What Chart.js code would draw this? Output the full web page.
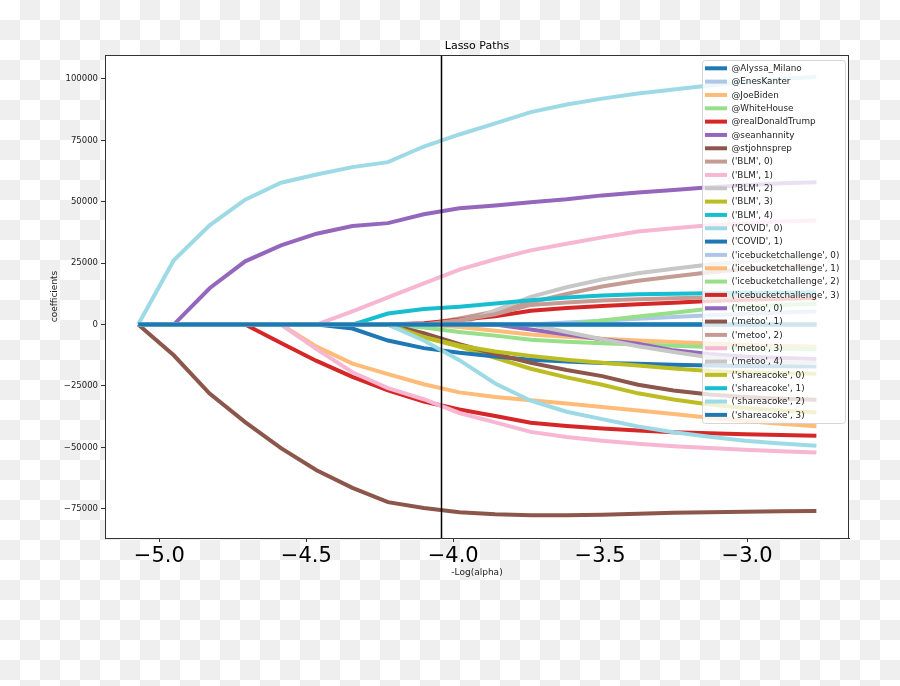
<!DOCTYPE html>
<html>
<head>
<meta charset="utf-8">
<script src="https://cdn.jsdelivr.net/npm/chart.js@4"></script>
<style>
  html, body { margin: 0; padding: 0; }
  body {
    width: 900px; height: 686px;
    background: repeating-conic-gradient(#efefef 0 25%, #ffffff 0 50%) 0 0 / 40px 40px;
  }
  canvas { display: block; }
</style>
</head>
<body>
<canvas id="myChart" width="900" height="686"></canvas>
<script>
// -log(alpha) at each step of the path
let logAlpha = [-5.072, -4.951, -4.829, -4.708, -4.586, -4.465, -4.343, -4.222, -4.100, -3.979,
                -3.857, -3.736, -3.614, -3.493, -3.371, -3.250, -3.128, -3.007, -2.885, -2.764];
let chosenAlpha = -4.043;
let xTicks = [-5.0, -4.5, -4.0, -3.5, -3.0];
let yTicks = [-75000, -50000, -25000, 0, 25000, 50000, 75000, 100000];

let labels = ["@Alyssa_Milano", "@EnesKanter", "@JoeBiden", "@WhiteHouse", "@realDonaldTrump",
  "@seanhannity", "@stjohnsprep", "('BLM', 0)", "('BLM', 1)", "('BLM', 2)", "('BLM', 3)", "('BLM', 4)",
  "('COVID', 0)", "('COVID', 1)", "('icebucketchallenge', 0)", "('icebucketchallenge', 1)",
  "('icebucketchallenge', 2)", "('icebucketchallenge', 3)", "('metoo', 0)", "('metoo', 1)",
  "('metoo', 2)", "('metoo', 3)", "('metoo', 4)", "('shareacoke', 0)", "('shareacoke', 1)",
  "('shareacoke', 2)", "('shareacoke', 3)"];

let colors = ["#1f77b4", "#aec7e8", "#ffbb78", "#98df8a", "#d62728", "#9467bd", "#8c564b",
  "#c49c94", "#f7b6d2", "#c7c7c7", "#bcbd22", "#17becf", "#9edae5",
  "#1f77b4", "#aec7e8", "#ffbb78", "#98df8a", "#d62728", "#9467bd", "#8c564b",
  "#c49c94", "#f7b6d2", "#c7c7c7", "#bcbd22", "#17becf", "#9edae5", "#1f77b4"];

let alyssaMilano    = [0, 0, 0, 0, 0, 0, 0, 0, 0, 0, 0, 0, 0, 0, 0, 0, 0, 0, 0, 0];
let enesKanter      = [0, 0, 0, 0, 0, 0, 0, 0, 0, 0, 0, 0, 800, 1600, 2400, 3100, 3800, 4400, 4900, 5300];
let joeBiden        = [0, 0, 0, 0, 0, -9000, -15900, -20200, -24300, -27600, -29500, -30800, -32100, -33600, -35000, -36400, -37900, -39300, -40400, -41400];
let whiteHouse      = [0, 0, 0, 0, 0, 0, 0, 0, 0, 0, 0, 0, 0, 1700, 3300, 4800, 6400, 7300, 8000, 8500];
let realDonaldTrump = [0, 0, 0, 0, -7500, -14800, -21300, -26800, -31300, -34600, -37200, -40000, -41300, -42300, -43100, -43800, -44300, -44700, -45000, -45300];
let seanHannity     = [0, 0, 14800, 25750, 32260, 37000, 40100, 41300, 44900, 47400, 48500, 49800, 51000, 52600, 53800, 54800, 55900, 56700, 57500, 57900];
let stJohnsPrep     = [0, -12500, -28100, -39700, -50300, -59300, -66500, -72300, -74700, -76400, -77200, -77600, -77600, -77400, -77000, -76600, -76400, -76200, -76000, -75900];
let blm0            = [0, 0, 0, 0, 0, 0, 0, 0, 0, 2500, 5300, 9000, 12500, 15500, 17800, 19600, 21300, 22500, 23400, 24000];
let blm1            = [0, 0, 0, 0, 0, 0, 5400, 11100, 16800, 22400, 26600, 30200, 32900, 35500, 37900, 39200, 40400, 41200, 42000, 42400];
let blm2            = [0, 0, 0, 0, 0, 0, 0, 0, 0, 0, 5800, 11300, 15200, 18400, 20900, 22700, 24500, 25700, 26800, 27600];
let blm3            = [0, 0, 0, 0, 0, 0, 0, 0, -5200, -9000, -13500, -18000, -21500, -24500, -28000, -30500, -32500, -34000, -35000, -35800];
let blm4            = [0, 0, 0, 0, 0, 0, 0, 4500, 6300, 7300, 8600, 9900, 11000, 11800, 12300, 12600, 12800, 13000, 13100, 13200];
let covid0          = [0, 26150, 40400, 50850, 57770, 61100, 64100, 66150, 72500, 77400, 81900, 86500, 89600, 92000, 94100, 95700, 97300, 98800, 100000, 100800];
let covid1          = [0, 0, 0, 0, 0, 0, -1600, -6500, -9600, -11500, -13000, -14300, -15000, -15600, -16000, -16400, -16700, -16900, -17000, -17100];
let ice0            = [0, 0, 0, 0, 0, 0, 0, 0, 0, 0, 0, 0, 0, 0, 0, 0, 0, 0, 0, 0];
let ice1            = [0, 0, 0, 0, 0, 0, 0, 0, 0, -1000, -2500, -4000, -5000, -5800, -6500, -7100, -7700, -8200, -8600, -9000];
let ice2            = [0, 0, 0, 0, 0, 0, 0, 0, -1200, -3000, -4500, -6200, -7000, -7600, -8100, -8600, -9100, -9500, -9800, -10000];
let ice3            = [0, 0, 0, 0, 0, 0, 0, 0, 500, 2000, 3400, 5600, 6700, 7600, 8300, 8900, 9600, 10100, 10500, 10800];
let metoo0          = [0, 0, 0, 0, 0, 0, 0, 0, 0, 0, 0, -2000, -4000, -6000, -7800, -10500, -12000, -13000, -13600, -14000];
let metoo1          = [0, 0, 0, 0, 0, 0, 0, 0, -3500, -8000, -12000, -15600, -18500, -21000, -24500, -26800, -28500, -29500, -30200, -30600];
let metoo2          = [0, 0, 0, 0, 0, 0, 0, 0, 0, 1800, 4200, 8000, 9000, 9800, 10300, 10700, 11000, 11300, 11500, 11700];
let metoo3          = [0, 0, 0, 0, 0, -10000, -19400, -25900, -30400, -36000, -39800, -43700, -45800, -47300, -48500, -49500, -50300, -51000, -51600, -52100];
let metoo4          = [0, 0, 0, 0, 0, 0, 0, 0, 0, 0, 0, 0, -3000, -6000, -8800, -11200, -13300, -14500, -15200, -15600];
let share0          = [0, 0, 0, 0, 0, 0, 0, 0, -5000, -8500, -11000, -12800, -14300, -15500, -16700, -17900, -18900, -19500, -19800, -20000];
let share1          = [0, 0, 0, 0, 0, 0, 0, 0, 0, 0, 0, 0, 0, 0, 0, 0, 0, 0, 0, 0];
let share2          = [0, 0, 0, 0, 0, 0, 0, 0, -6500, -14500, -24000, -31000, -35500, -38500, -41500, -43800, -45700, -47300, -48400, -49300];
let share3          = [0, 0, 0, 0, 0, 0, 0, 0, 0, 0, 0, 0, 0, 0, 0, 0, 0, 0, 0, 0];

let series = [alyssaMilano, enesKanter, joeBiden, whiteHouse, realDonaldTrump, seanHannity, stJohnsPrep,
  blm0, blm1, blm2, blm3, blm4, covid0, covid1, ice0, ice1, ice2, ice3,
  metoo0, metoo1, metoo2, metoo3, metoo4, share0, share1, share2, share3];

const FONT = "'DejaVu Sans', sans-serif";

function minus(s) {
  return s.replace("-", "\u2212");
}

// white plot area over the checkered page
let plotBackground = {
  id: "plotBackground",
  beforeDraw(chart) {
    let {ctx, chartArea: a} = chart;
    ctx.save();
    ctx.fillStyle = "#ffffff";
    ctx.fillRect(a.left, a.top, a.right - a.left, a.bottom - a.top);
    ctx.restore();
  }
};

let decorations = {
  id: "decorations",
  afterDatasetsDraw(chart) {
    let {ctx, chartArea: a, scales} = chart;
    ctx.save();
    // chosen alpha
    let x = Math.round(scales.x.getPixelForValue(chosenAlpha)) + 0.5;
    ctx.strokeStyle = "#000";
    ctx.lineWidth = 1.5;
    ctx.beginPath();
    ctx.moveTo(x, a.top);
    ctx.lineTo(x, a.bottom);
    ctx.stroke();
    // frame
    ctx.strokeStyle = "#333";
    ctx.lineWidth = 1;
    ctx.strokeRect(a.left + 0.5, a.top + 0.5, a.right - a.left - 1, a.bottom - a.top);
    // texts
    ctx.fillStyle = "#000";
    ctx.textAlign = "center";
    ctx.textBaseline = "middle";
    ctx.font = "11px " + FONT;
    ctx.fillText("Lasso Paths", (a.left + a.right) / 2, 46);
    ctx.fillStyle = "#222";
    ctx.font = "9px " + FONT;
    ctx.fillText("-Log(alpha)", (a.left + a.right) / 2, 573);
    ctx.translate(55, (a.top + a.bottom) / 2);
    ctx.rotate(-Math.PI / 2);
    ctx.fillText("coefficients", 0, 0);
    ctx.restore();
  },
  afterDraw(chart) {
    // legend box inside the plot, top right
    let ctx = chart.ctx;
    let left = 702, top = 60, w = 143, h = 363;
    ctx.save();
    ctx.globalAlpha = 0.8;
    ctx.fillStyle = "#ffffff";
    ctx.strokeStyle = "#cccccc";
    ctx.lineWidth = 1;
    ctx.beginPath();
    ctx.roundRect(left + 0.5, top + 0.5, w, h, 3);
    ctx.fill();
    ctx.stroke();
    ctx.globalAlpha = 1;
    ctx.font = "8.8px " + FONT;
    ctx.textAlign = "left";
    ctx.textBaseline = "middle";
    labels.forEach((lab, i) => {
      let y = 68.3 + i * 13.33;
      ctx.strokeStyle = colors[i];
      ctx.lineWidth = 4;
      ctx.beginPath();
      ctx.moveTo(705, y);
      ctx.lineTo(727, y);
      ctx.stroke();
      ctx.fillStyle = "#222";
      ctx.fillText(lab, 731.5, y + 0.5);
    });
    ctx.restore();
  }
};

let datasets = series.map((s, i) => ({
  label: labels[i],
  data: s.map((v, j) => ({x: logAlpha[j], y: v})),
  borderColor: colors[i],
  backgroundColor: colors[i],
  borderWidth: 4,
  pointRadius: 0,
  tension: 0,
  fill: false,
  order: series.length - i
}));

new Chart(document.getElementById("myChart"), {
  type: "line",
  data: {datasets},
  options: {
    responsive: false,
    animation: false,
    devicePixelRatio: 1,
    layout: {padding: {top: 55, right: 51, bottom: 0, left: 0}},
    plugins: {legend: {display: false}, tooltip: {enabled: false}, title: {display: false}},
    scales: {
      x: {
        type: "linear",
        min: -5.185,
        max: -2.653,
        afterFit: s => { s.height = 148; },
        afterBuildTicks: s => { s.ticks = xTicks.map(v => ({value: v})); },
        grid: {drawOnChartArea: false, drawTicks: true, tickLength: 4, tickColor: "#333"},
        border: {display: true, color: "#333"},
        ticks: {
          autoSkip: false, maxRotation: 0, padding: 2, color: "#000",
          font: {family: FONT, size: 21},
          callback: v => minus(v.toFixed(1))
        }
      },
      y: {
        type: "linear",
        min: -86900,
        max: 109760,
        afterFit: s => { s.width = 105; },
        afterBuildTicks: s => { s.ticks = yTicks.map(v => ({value: v})); },
        grid: {drawOnChartArea: false, drawTicks: true, tickLength: 4, tickColor: "#333"},
        border: {display: true, color: "#333"},
        ticks: {
          autoSkip: false, padding: 3, color: "#222",
          font: {family: FONT, size: 8.5},
          callback: v => minus(String(v))
        }
      }
    }
  },
  plugins: [plotBackground, decorations]
});
</script>
</body>
</html>
